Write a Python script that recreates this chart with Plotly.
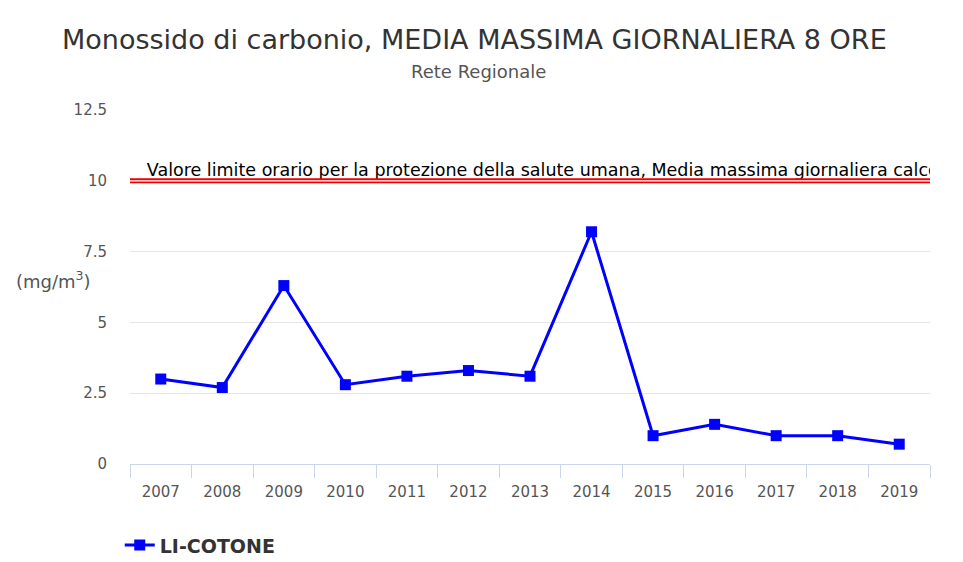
import plotly.graph_objects as go

years = ["2007", "2008", "2009", "2010", "2011", "2012", "2013",
         "2014", "2015", "2016", "2017", "2018", "2019"]
values = [3.0, 2.7, 6.3, 2.8, 3.1, 3.3, 3.1, 8.2, 1.0, 1.4, 1.0, 1.0, 0.7]
series_name = "LI-COTONE"
limit_value = 10
limit_label = "Valore limite orario per la protezione della salute umana, Media massima giornaliera calcolata su 8 ore"
y_ticks = [0, 2.5, 5, 7.5, 10, 12.5]
y_tick_text = ["0", "2.5", "5", "7.5", "10", "12.5"]

FONT = "DejaVu Sans"

fig = go.Figure()
fig.add_trace(go.Scatter(
    x=years, y=values, mode="lines+markers", name=series_name,
    line=dict(color="#0000ff", width=3),
    marker=dict(symbol="square", size=11, color="#0000ff"),
))

# limit label, clipped to plot area (on hidden overlay axis)
fig.add_trace(go.Scatter(
    x=[0.021], y=[limit_value], mode="text", text=[limit_label],
    textposition="top right", cliponaxis=True, showlegend=False,
    xaxis="x2", hoverinfo="skip",
    textfont=dict(family=FONT, size=17.5, color="#000000"),
))

# double red limit line
fig.add_shape(type="line", xref="paper", yref="y", x0=0, x1=1,
              y0=limit_value, y1=limit_value,
              line=dict(color="#ee0000", width=5), layer="above")
fig.add_shape(type="line", xref="paper", yref="y", x0=0, x1=1,
              y0=limit_value, y1=limit_value,
              line=dict(color="#ffffff", width=1.2), layer="above")

fig.add_annotation(xref="paper", yref="paper", x=0, xshift=-37, y=0.52,
                   text="(mg/m<sup>3</sup>)", showarrow=False, xanchor="right",
                   font=dict(family=FONT, size=18, color="#555555"))

fig.add_annotation(xref="paper", yref="paper", x=0.43, y=1.198,
                   text="Monossido di carbonio, MEDIA MASSIMA GIORNALIERA 8 ORE",
                   showarrow=False, xanchor="center", yanchor="middle",
                   font=dict(family=FONT, size=27, color="#333333"))
fig.add_annotation(xref="paper", yref="paper", x=0.435, y=1.11,
                   text="Rete Regionale",
                   showarrow=False, xanchor="center", yanchor="middle",
                   font=dict(family=FONT, size=18, color="#555555"))

fig.update_layout(
    width=947, height=546,
    margin=dict(l=122, r=25, t=102, b=90, autoexpand=False),
    paper_bgcolor="white", plot_bgcolor="white",
    showlegend=True,
    legend=dict(orientation="h", xref="container", yref="container",
                x=0.118, y=0.016, xanchor="left", yanchor="middle",
                font=dict(family=FONT, size=19, color="#333333", weight="bold"),
                itemwidth=30),
    xaxis=dict(type="category", tickson="boundaries", ticks="outside",
               ticklen=13, tickcolor="#ccd6eb", showline=True,
               linecolor="#ccd6eb", linewidth=1, showgrid=False,
               ticklabelstandoff=14,
               tickfont=dict(family=FONT, size=15, color="#555555"),
               range=[-0.5, len(years) - 0.5]),
    xaxis2=dict(overlaying="x", range=[0, 1], visible=False),
    yaxis=dict(range=[0, 12.5], tickvals=y_ticks, ticktext=y_tick_text,
               showgrid=True, gridcolor="#e6e6e6", gridwidth=1,
               zeroline=False, showline=False, ticks="",
               ticklabelstandoff=22,
               tickfont=dict(family=FONT, size=15, color="#555555")),
)

fig.write_html("out.html")
